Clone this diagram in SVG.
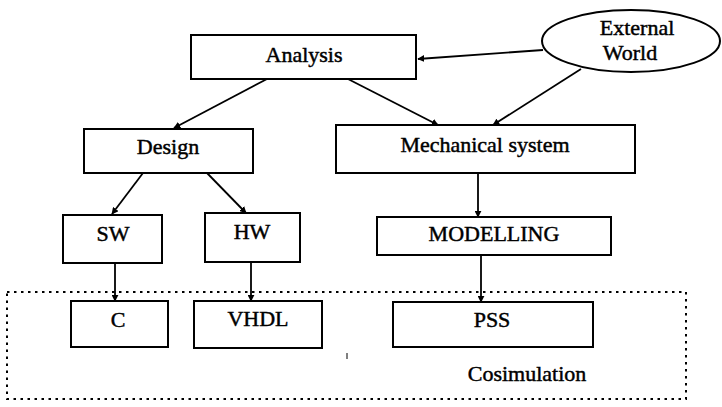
<svg xmlns="http://www.w3.org/2000/svg" width="722" height="407" viewBox="0 0 722 407">
  <style>
    .box { fill: #fff; stroke: #000; stroke-width: 2; }
    .lbl { font-family: "Liberation Serif", "Times New Roman", serif; font-size: 22px; fill: #000; stroke: #000; stroke-width: 0.45; text-anchor: middle; }
    .edge { fill: none; stroke: #000; stroke-width: 1.8; }
    .group { fill: none; stroke: #000; stroke-width: 2; stroke-dasharray: 2.5 4.5; }
  </style>
  <defs>
    <marker id="arrow" viewBox="0 0 10 10" refX="9" refY="5" markerWidth="7" markerHeight="7" markerUnits="userSpaceOnUse" orient="auto">
      <path d="M0,0 L10,5 L0,10 z" fill="#000"/>
    </marker>
  </defs>

  <rect width="722" height="407" fill="#fff"/>

  <!-- cosimulation boundary -->
  <g id="cosimulation">
    <rect class="group" x="7" y="292" width="679" height="107"/>
    <text class="lbl" x="527" y="381">Cosimulation</text>
    <line x1="347" y1="353" x2="347" y2="359" stroke="#000" stroke-width="1"/>
  </g>

  <g id="analysis">
    <rect class="box" x="191" y="35" width="225" height="44"/>
    <text class="lbl" x="304" y="62">Analysis</text>
  </g>

  <g id="external-world">
    <ellipse cx="631" cy="41" rx="89" ry="31" fill="#fff" stroke="#000" stroke-width="2"/>
    <text class="lbl" x="637" y="35">External</text>
    <text class="lbl" x="630" y="60">World</text>
  </g>

  <g id="design">
    <rect class="box" x="84" y="129" width="169" height="44"/>
    <text class="lbl" x="168" y="154">Design</text>
  </g>

  <g id="mechanical-system">
    <rect class="box" x="336" y="125" width="299" height="48"/>
    <text class="lbl" x="485" y="152">Mechanical system</text>
  </g>

  <g id="sw">
    <rect class="box" x="63" y="215" width="99" height="48"/>
    <text class="lbl" x="113" y="241">SW</text>
  </g>

  <g id="hw">
    <rect class="box" x="205" y="213" width="95" height="49"/>
    <text class="lbl" x="252" y="239">HW</text>
  </g>

  <g id="modelling">
    <rect class="box" x="377" y="217" width="234" height="38"/>
    <text class="lbl" x="494" y="241">MODELLING</text>
  </g>

  <g id="c">
    <rect class="box" x="71" y="301" width="97" height="46"/>
    <text class="lbl" x="118" y="327">C</text>
  </g>

  <g id="vhdl">
    <rect class="box" x="194" y="301" width="128" height="47"/>
    <text class="lbl" x="258" y="326">VHDL</text>
  </g>

  <g id="pss">
    <rect class="box" x="393" y="302" width="200" height="45"/>
    <text class="lbl" x="492" y="327">PSS</text>
  </g>

  <g id="connectors">
    <line class="edge" x1="543" y1="50" x2="418" y2="59" marker-end="url(#arrow)"/>
    <line class="edge" x1="267" y1="79" x2="174" y2="128" marker-end="url(#arrow)"/>
    <line class="edge" x1="348" y1="79" x2="438" y2="125" marker-end="url(#arrow)"/>
    <line class="edge" x1="581" y1="69" x2="493" y2="125" marker-end="url(#arrow)"/>
    <line class="edge" x1="143" y1="173" x2="112" y2="214" marker-end="url(#arrow)"/>
    <line class="edge" x1="207" y1="173" x2="246" y2="213" marker-end="url(#arrow)"/>
    <line class="edge" x1="478" y1="173" x2="478" y2="217" marker-end="url(#arrow)"/>
    <line class="edge" x1="115" y1="263" x2="115" y2="301" marker-end="url(#arrow)"/>
    <line class="edge" x1="251" y1="262" x2="251" y2="301" marker-end="url(#arrow)"/>
    <line class="edge" x1="481" y1="255" x2="481" y2="302" marker-end="url(#arrow)"/>
  </g>
</svg>
